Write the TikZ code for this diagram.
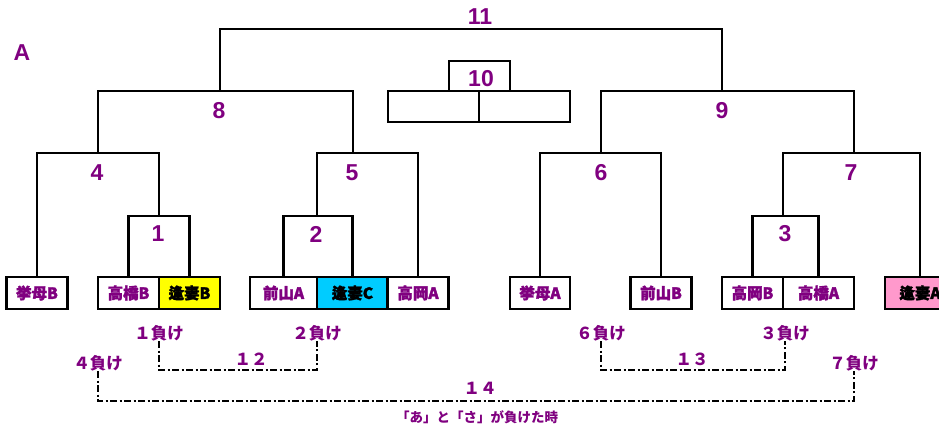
\documentclass[tikz,border=0pt]{standalone}
\usepackage{fontspec}
\setmainfont{Liberation Sans}
\newfontfamily\jp{Noto Sans CJK JP}
\newfontfamily\jph{Noto Sans CJK JP}[FakeBold=2]
\definecolor{pu}{RGB}{128,0,128}
\definecolor{ye}{RGB}{255,255,0}
\definecolor{cy}{RGB}{0,204,255}
\definecolor{pk}{RGB}{255,153,204}
\tikzset{
  num/.style={font=\fontsize{23bp}{27bp}\selectfont\bfseries, text=pu, inner sep=0pt},
  team/.style={draw, line width=2.4bp, minimum height=32bp, inner sep=0pt,
    font=\jph\fontsize{15.5bp}{18bp}\selectfont\bfseries, text=pu},
  lose/.style={font=\jp\fontsize{16.5bp}{18bp}\selectfont\bfseries, text=pu, inner sep=0pt},
  br/.style={line width=2bp},
  heavybr/.style={line width=2.4bp},
  thinbr/.style={line width=1.3bp},
  dd/.style={line width=1.9bp, dash pattern=on 7bp off 2.5bp on 2bp off 2.5bp},
}
\begin{document}
\begin{tikzpicture}[x=1bp,y=-1bp]
\useasboundingbox (0,0) rectangle (939,429);
\fill[white] (0,0) rectangle (939,429);
\clip (0,0) rectangle (939,429);
% teams
\node[team, minimum width=61bp] (kbB) at (37,293) {挙母B};
\node[team, minimum width=61bp] (tkB) at (128.5,293) {高橋B};
\node[team, minimum width=61bp, fill=ye, text=black] (sgB) at (189.5,293) {逢妻B};
\node[team, minimum width=67bp] (myA) at (283.5,293) {前山A};
\node[team, minimum width=71bp, fill=cy, text=black] (sgC) at (352.5,293) {逢妻C};
\node[team, minimum width=61bp] (toA) at (418,293) {高岡A};
\node[team, minimum width=60bp] (kbA) at (540,293) {挙母A};
\node[team, minimum width=61bp] (myB) at (661,293) {前山B};
\node[team, minimum width=61bp] (toB) at (752.5,293) {高岡B};
\node[team, minimum width=71bp] (thA) at (818.5,293) {高橋A};
\node[team, minimum width=70bp, fill=pk, text=black] (sgA) at (920,293) {逢妻A};
% match points
\coordinate (m1) at (159,216);
\coordinate (m2) at (317,216);
\coordinate (m3) at (783,216);
\coordinate (m4) at (98,153);
\coordinate (m5) at (353,153);
\coordinate (m6) at (601,153);
\coordinate (m7) at (854,153);
\coordinate (m8) at (220,91);
\coordinate (m9) at (722,91);
\coordinate (m11) at (480,29);
\coordinate (m10) at (480,61);
% brackets
\draw[heavybr] (tkB.north) |- (m1) -| (sgB.north);
\draw[heavybr] (myA.north) |- (m2) -| (sgC.north);
\draw[heavybr] (toB.north) |- (m3) -| (thA.north);
\draw[br] (kbB.north) |- (m4) -| (m1);
\draw[br] (m2) |- (m5) -| (toA.north);
\draw[br] (kbA.north) |- (m6) -| (myB.north);
\draw[br] (m3) |- (m7) -| (sgA.north);
\draw[heavybr] (m4) |- (m8) -| (m5);
\draw[heavybr] (m6) |- (m9) -| (m7);
\draw[br] (m8) |- (m11) -| (m9);
% 10
\node[draw, thinbr, minimum width=91bp, minimum height=31bp, inner sep=0pt] (tenL) at (433.5,106.5) {};
\node[draw, thinbr, minimum width=91bp, minimum height=31bp, inner sep=0pt] (tenR) at (524.5,106.5) {};
\draw[thinbr] ([xshift=15.5bp]tenL.north) |- (m10) -| ([xshift=-14.5bp]tenR.north);
% numbers
\node[num] (tA) at (22,53) {A};
\node[num] (n11) at (480,17) {11};
\node[num] (n10) at (481,79) {10};
\node[num] (n8) at (219,111) {8};
\node[num] (n9) at (722,111) {9};
\node[num] (n4) at (97,173) {4};
\node[num] (n5) at (352,173) {5};
\node[num] (n6) at (601,173) {6};
\node[num] (n7) at (851,173) {7};
\node[num] (n1) at (158,234) {1};
\node[num] (n2) at (316,234) {2};
\node[num] (n3) at (785,234) {3};
% losers
\node[lose] (L1) at (159,333) {１負け};
\node[lose] (L2) at (317,333) {２負け};
\node[lose] (L6) at (601,333) {６負け};
\node[lose] (L3) at (785,333) {３負け};
\node[lose] (L4) at (98,363) {４負け};
\node[lose] (L7) at (854,363) {７負け};
\coordinate (c12) at (238,370);
\coordinate (c13) at (692,370);
\coordinate (c14) at (476,401);
\draw[dd] (L1.south) |- (c12) -| (L2.south);
\draw[dd] (L6.south) |- (c13) -| (L3.south);
\draw[dd] (L4.south) |- (c14) -| (L7.south);
\node[lose] (t12) at (251,359) {１２};
\node[lose] (t13) at (692,359) {１３};
\node[lose] (t14) at (480,388) {１４};
\node[text=pu, inner sep=0pt, font=\jp\fontsize{13.5bp}{15bp}\selectfont\bfseries] (cap) at (477,417) {「あ」と「さ」が負けた時};
\end{tikzpicture}
\end{document}
